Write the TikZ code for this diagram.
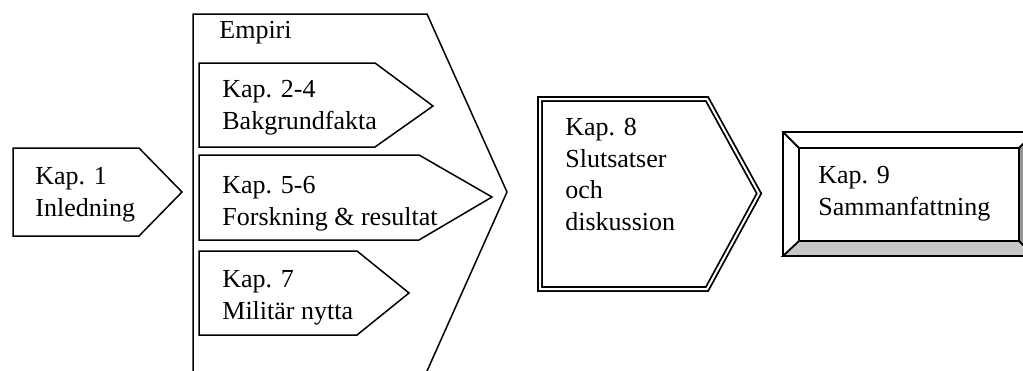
\documentclass[tikz,border=0pt]{standalone}
\usepackage{fontspec}
\setmainfont{Liberation Serif}
\usepackage{tikz}

\begin{document}
\begin{tikzpicture}[
    x=0.5pt, y=-0.5pt,
    chap/.style={draw, line width=0.75pt, fill=white, line join=miter},
    twoline/.style={draw, line width=0.9pt, double, double distance=1pt, line join=miter},
    bevel/.style={draw, line width=0.9pt, line join=miter},
    txt/.style={anchor=north west, inner sep=0pt, align=left, font=\fontsize{13}{15.8}\selectfont}
]
    \useasboundingbox (0,0) rectangle (1023,370);

    % Kap 1
    \draw[chap] (13,148) -- (139,148) -- (182,192) -- (139,236) -- (13,236) -- cycle;
    \node[txt] (inledning) at (35,167) {Kap. 1\\Inledning};

    % Empiri with its three parts
    \draw[chap] (193,380) -- (193,14) -- (427,14) -- (507,192) -- (423,380);
    \node[txt] (empiri) at (219,21) {Empiri};
    \draw[chap] (199,63) -- (375,63) -- (433,106) -- (375,147) -- (199,147) -- cycle;
    \node[txt] (bakgrund) at (222,80) {Kap. 2-4\\Bakgrundfakta};
    \draw[chap] (199,155) -- (419,155) -- (492,197) -- (419,240) -- (199,240) -- cycle;
    \node[txt] (forskning) at (222,176) {Kap. 5-6\\Forskning \& resultat};
    \draw[chap] (199,251) -- (357,251) -- (409,293) -- (357,335) -- (199,335) -- cycle;
    \node[txt] (nytta) at (222,270) {Kap. 7\\Militär nytta};

    % Kap 8
    \draw[twoline] (540,99) -- (707,99) -- (759,193.5) -- (707,289) -- (540,289) -- cycle;
    \node[txt] (slutsatser) at (565,118) {Kap. 8\\Slutsatser\\och\\diskussion};

    % Kap 9
    \draw[bevel, fill=white] (783,132) rectangle (1035,256);
    \draw[bevel, fill=black!22] (783,256) -- (799,241) -- (1019,241) -- (1035,256) -- cycle;
    \draw[bevel, fill=black!42] (1019,148) -- (1035,132) -- (1035,256) -- (1019,241) -- cycle;
    \draw[bevel] (783,132) -- (799,148);
    \draw[bevel] (799,148) rectangle (1019,241);
    \node[txt] (sammanfattning) at (818,166) {Kap. 9\\Sammanfattning};
\end{tikzpicture}
\end{document}
